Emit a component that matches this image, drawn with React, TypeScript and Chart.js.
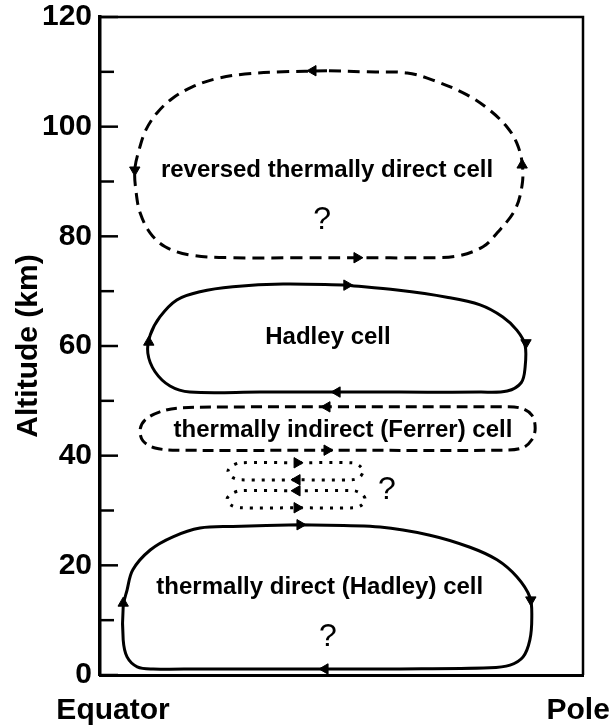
import React, { useEffect, useRef } from 'react';
import { Chart, registerables } from 'chart.js';

Chart.register(...registerables);

// ---- data (x: 0 = Equator, 100 = Pole; y: altitude in km) ----
const xTickLabels = ['Equator', 'Pole'];
const yMin = 0;
const yMax = 120;
const yStep = 10;
const yLabelStep = 20;

const reversedCell: [number, number][] = [
  [47.0, 110.2], [37.9, 110.0], [30.0, 109.6], [23.8, 108.7], [19.0, 107.2], [14.9, 105.1],
  [11.8, 102.5], [9.5, 99.4], [8.1, 95.8], [7.2, 92.1], [7.5, 87.9], [8.3, 84.3], [10.4, 80.6],
  [13.5, 78.1], [18.6, 76.6], [26.9, 76.1], [41.4, 76.1], [53.8, 76.1], [66.3, 76.1],
  [73.9, 76.4], [79.3, 78.1], [82.2, 80.6], [85.9, 84.8], [87.4, 89.4], [87.4, 93.4],
  [86.3, 97.0], [84.3, 99.9], [80.7, 103.0], [76.0, 105.8], [68.9, 108.5], [63.6, 109.8],
  [55.3, 110.0], [47.0, 110.2],
];

const hadleyCell: [number, number][] = [
  [51.1, 71.1], [61.5, 70.2], [71.8, 68.9], [78.7, 67.5], [83.4, 65.3], [86.3, 62.9],
  [88.0, 60.2], [88.0, 56.0], [87.2, 53.3], [84.3, 51.8], [78.7, 51.6], [62.1, 51.6],
  [49.1, 51.6], [33.1, 51.6], [18.6, 51.6], [14.5, 52.7], [11.4, 55.3], [9.9, 58.7],
  [10.4, 62.0], [12.4, 65.3], [15.9, 68.4], [20.7, 69.9], [27.5, 70.8], [37.9, 71.3],
  [51.1, 71.1],
];

const ferrerCell: [number, number][] = [
  [47.6, 48.9], [31.1, 48.9], [16.6, 48.7], [12.4, 48.0], [9.3, 46.5], [8.3, 44.7],
  [8.9, 42.7], [11.4, 41.4], [16.6, 41.0], [47.6, 41.0], [82.8, 41.0], [87.4, 41.4],
  [89.4, 42.9], [90.1, 45.0], [89.4, 47.4], [87.0, 48.7], [82.8, 48.9], [47.6, 48.9],
];

const dottedCellUpper: [number, number][] = [
  [40.8, 38.7], [29.0, 38.7], [27.3, 38.1], [26.5, 37.2], [27.3, 36.1], [29.0, 35.6],
  [40.8, 35.6], [52.2, 35.6], [53.8, 36.1], [54.5, 37.2], [53.8, 38.1], [52.2, 38.7],
  [40.8, 38.7],
];

const dottedCellLower: [number, number][] = [
  [40.8, 33.6], [29.0, 33.6], [27.1, 33.0], [26.3, 32.1], [27.1, 31.0], [29.0, 30.5],
  [40.8, 30.5], [52.6, 30.5], [54.2, 31.0], [54.9, 32.1], [54.2, 33.0], [52.6, 33.6],
  [40.8, 33.6],
];

const directCell: [number, number][] = [
  [41.4, 27.4], [58.0, 27.0], [68.3, 25.5], [76.6, 23.3], [82.2, 21.0], [86.3, 17.9],
  [89.0, 14.2], [89.4, 10.6], [89.0, 6.4], [87.6, 3.3], [84.9, 1.8], [80.7, 1.3],
  [62.1, 1.1], [46.6, 1.1], [20.7, 1.1], [11.0, 1.1], [7.7, 1.5], [5.6, 3.3], [4.8, 6.4],
  [4.8, 12.4], [5.6, 15.5], [6.8, 19.2], [10.4, 22.8], [15.1, 25.2], [20.7, 26.8],
  [27.5, 27.1], [41.4, 27.4],
];

// arrow heads: position and direction (degrees, 0 = up, 90 = right)
const arrowX = [44.1, 7.2, 53.2, 87.4, 51.1, 88.2, 49.1, 10.1, 47.0, 47.0, 40.8, 40.8, 40.8, 40.8, 41.4, 89.2, 46.6, 4.8];
const arrowY = [110.2, 92.1, 76.1, 93.0, 71.1, 60.6, 51.6, 60.7, 48.9, 41.0, 38.7, 35.6, 33.6, 30.5, 27.4, 13.7, 1.1, 13.1];
const arrowDir = [270, 180, 90, 0, 90, 180, 270, 0, 270, 90, 90, 270, 270, 90, 90, 180, 270, 0];

const cellLabels = [
  'reversed thermally direct cell',
  '?',
  'Hadley cell',
  'thermally indirect (Ferrer) cell',
  '?',
  'thermally direct (Hadley) cell',
  '?',
];
const cellLabelX = [47.0, 46.0, 47.2, 50.3, 59.4, 45.5, 47.2];
const cellLabelY = [92.1, 83.0, 61.5, 44.7, 33.7, 15.9, 6.9];

const FONT = '"Liberation Sans", Arial, Helvetica, sans-serif';

const toXY = (arr: [number, number][]) => arr.map(([x, y]) => ({ x, y }));

const framePlugin = {
  id: 'framePlugin',
  afterDraw(chart: any) {
    const { ctx, chartArea, scales } = chart;
    const { left, right, top, bottom } = chartArea;
    ctx.save();
    ctx.strokeStyle = '#000';
    // top & right frame
    ctx.lineWidth = 2.5;
    ctx.beginPath();
    ctx.moveTo(left, top);
    ctx.lineTo(right, top);
    ctx.lineTo(right, bottom);
    ctx.stroke();
    // inward ticks on the y axis
    ctx.lineWidth = 2.5;
    for (let v = yMin; v <= yMax; v += yStep) {
      const py = scales.y.getPixelForValue(v);
      const len = v % yLabelStep === 0 ? 18 : 14;
      ctx.beginPath();
      ctx.moveTo(left, py);
      ctx.lineTo(left + len, py);
      ctx.stroke();
    }
    // cell labels
    ctx.fillStyle = '#000';
    ctx.textAlign = 'center';
    ctx.textBaseline = 'middle';
    cellLabels.forEach((t, i) => {
      ctx.font = t === '?' ? `normal 32px ${FONT}` : `bold 24px ${FONT}`;
      ctx.fillText(t, scales.x.getPixelForValue(cellLabelX[i]), scales.y.getPixelForValue(cellLabelY[i]));
    });
    ctx.restore();
  },
};

export default function App() {
  const ref = useRef<HTMLCanvasElement | null>(null);

  useEffect(() => {
    if (!ref.current) return;
    const lineBase = {
      showLine: true,
      pointRadius: 0,
      pointHoverRadius: 0,
      borderColor: '#000',
      backgroundColor: '#000',
      borderWidth: 3,
      tension: 0.35,
      fill: false,
    };
    const chart = new Chart(ref.current, {
      type: 'scatter',
      data: {
        datasets: [
          { ...lineBase, label: 'reversed', data: toXY(reversedCell), borderDash: [12, 7] },
          { ...lineBase, label: 'hadley', data: toXY(hadleyCell) },
          { ...lineBase, label: 'ferrer', data: toXY(ferrerCell), borderDash: [11, 6] },
          { ...lineBase, label: 'dottedA', data: toXY(dottedCellUpper), borderDash: [3, 7], borderWidth: 3, tension: 0.3 },
          { ...lineBase, label: 'dottedB', data: toXY(dottedCellLower), borderDash: [3, 7], borderWidth: 3, tension: 0.3 },
          { ...lineBase, label: 'direct', data: toXY(directCell) },
          {
            label: 'arrows',
            data: arrowX.map((x, i) => ({ x, y: arrowY[i] })),
            showLine: false,
            pointStyle: 'triangle',
            pointRadius: 6,
            pointHoverRadius: 6,
            pointRotation: arrowDir,
            backgroundColor: '#000',
            borderColor: '#000',
            borderWidth: 1,
          },
        ],
      },
      options: {
        animation: false,
        responsive: false,
        layout: { padding: { left: 0, top: 17, right: 31, bottom: 0 } },
        plugins: {
          legend: { display: false },
          tooltip: { enabled: false },
        },
        scales: {
          x: {
            type: 'linear',
            min: 0,
            max: 100,
            afterBuildTicks: (s: any) => {
              s.ticks = [{ value: 2.7 }, { value: 99 }];
            },
            afterFit: (s: any) => {
              s.height = 51;
              s.paddingLeft = 0;
              s.paddingRight = 0;
            },
            grid: { display: false, drawTicks: false },
            border: { display: true, color: '#000', width: 3 },
            ticks: {
              autoSkip: false,
              maxRotation: 0,
              padding: 18,
              color: '#000',
              font: { family: FONT, size: 30, weight: 'bold' },
              callback: (_v: any, i: number) => xTickLabels[i],
            },
          },
          y: {
            type: 'linear',
            min: yMin,
            max: yMax,
            afterFit: (s: any) => {
              s.width = 100;
              s.paddingTop = 0;
              s.paddingBottom = 0;
            },
            grid: { display: false, drawTicks: false },
            border: { display: true, color: '#000', width: 3.5 },
            ticks: {
              stepSize: yStep,
              autoSkip: false,
              padding: 8,
              color: '#000',
              font: { family: FONT, size: 30, weight: 'bold' },
              callback: (v: any) => (Number(v) % yLabelStep === 0 ? String(v) : ''),
            },
            title: {
              display: true,
              text: 'Altitude (km)',
              color: '#000',
              padding: { top: 11, bottom: 0 },
              font: { family: FONT, size: 30, weight: 'bold' },
            },
          },
        },
      },
      plugins: [framePlugin],
    } as any);
    return () => chart.destroy();
  }, []);

  return (
    <div style={{ position: 'fixed', left: 0, top: 0, width: 614, height: 726, background: '#fff' }}>
      <canvas ref={ref} width={614} height={726} style={{ display: 'block' }} />
    </div>
  );
}
